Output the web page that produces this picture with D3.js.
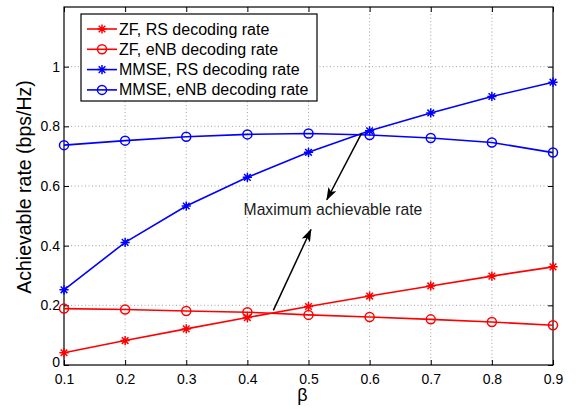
<!DOCTYPE html>
<html>
<head>
<meta charset="utf-8">
<script src="https://cdn.jsdelivr.net/npm/d3@7"></script>
<style>
  body { margin: 0; background: #fff; }
  svg text { font-family: Arial, "Liberation Sans", sans-serif; }
</style>
</head>
<body>
<div id="chart"></div>
<script>
// beta values and the four rate curves
var betas = [0.1, 0.2, 0.3, 0.4, 0.5, 0.6, 0.7, 0.8, 0.9];
var zfRS = [0.041, 0.082, 0.121, 0.159, 0.196, 0.231, 0.265, 0.298, 0.329];
var zfENB = [0.189, 0.186, 0.181, 0.177, 0.168, 0.161, 0.153, 0.144, 0.133];
var mmseRS = [0.252, 0.411, 0.533, 0.629, 0.713, 0.785, 0.845, 0.900, 0.948];
var mmseENB = [0.737, 0.752, 0.765, 0.773, 0.776, 0.771, 0.761, 0.746, 0.712];
var xTicks = [0.1, 0.2, 0.3, 0.4, 0.5, 0.6, 0.7, 0.8, 0.9];
var yTicks = [0, 0.2, 0.4, 0.6, 0.8, 1];
var seriesNames = ["ZF, RS decoding rate", "ZF, eNB decoding rate", "MMSE, RS decoding rate", "MMSE, eNB decoding rate"];
var annotation = "Maximum achievable rate";

var series = [
  {name: seriesNames[0], values: zfRS, color: "#ff0000", marker: "star"},
  {name: seriesNames[1], values: zfENB, color: "#ff0000", marker: "circle"},
  {name: seriesNames[2], values: mmseRS, color: "#0000ff", marker: "star"},
  {name: seriesNames[3], values: mmseENB, color: "#0000ff", marker: "circle"}
];

var margin = {top: 7, right: 24, bottom: 44, left: 64},
  width = 577 - margin.left - margin.right,
  height = 409 - margin.top - margin.bottom;

var svg = d3.select("#chart").append("svg")
  .attr("width", 577)
  .attr("height", 409);
var g = svg.append("g")
  .attr("transform", "translate(" + margin.left + "," + margin.top + ")");

var x = d3.scaleLinear().domain([0.1, 0.9]).range([0, width]);
var y = d3.scaleLinear().domain([0, 1.2]).range([height, 0]);

// dotted grid
g.selectAll(".vgrid").data(xTicks.slice(1, -1)).enter().append("line")
  .attr("x1", function(d) { return x(d); }).attr("x2", function(d) { return x(d); })
  .attr("y1", 0).attr("y2", height)
  .attr("stroke", "#8c8c8c").attr("stroke-width", 0.8).attr("stroke-dasharray", "1,2.5");
g.selectAll(".hgrid").data(yTicks.slice(1)).enter().append("line")
  .attr("y1", function(d) { return y(d); }).attr("y2", function(d) { return y(d); })
  .attr("x1", 0).attr("x2", width)
  .attr("stroke", "#8c8c8c").attr("stroke-width", 0.8).attr("stroke-dasharray", "1,2.5");

// axes with inward ticks on all four sides
function styleAxis(sel) {
  sel.select(".domain").remove();
  sel.selectAll(".tick line").attr("stroke", "#000");
  sel.selectAll("text").attr("fill", "#000").style("font-size", "14px");
}
g.append("g")
  .attr("transform", "translate(0," + height + ")")
  .call(d3.axisBottom(x).tickValues(xTicks).tickSizeInner(-5).tickSizeOuter(0).tickPadding(9).tickFormat(d3.format(".1f")))
  .call(styleAxis);
var yAxis = g.append("g")
  .call(d3.axisLeft(y).tickValues(yTicks).tickSizeInner(-5).tickSizeOuter(0).tickPadding(4).tickFormat(function(d) { return d === 0 || d === 1 ? d : d3.format(".1f")(d); }))
  .call(styleAxis);
// lift the "0" label a little so it clears the x labels
yAxis.selectAll(".tick text").filter(function(d) { return d === 0; }).attr("dy", "0.1em");
g.append("g")
  .call(d3.axisTop(x).tickValues(xTicks).tickSizeInner(-5).tickSizeOuter(0).tickFormat(""))
  .call(styleAxis);
g.append("g")
  .attr("transform", "translate(" + width + ",0)")
  .call(d3.axisRight(y).tickValues(yTicks).tickSizeInner(-5).tickSizeOuter(0).tickFormat(""))
  .call(styleAxis);

g.append("rect")
  .attr("width", width).attr("height", height)
  .attr("fill", "none").attr("stroke", "#000").attr("stroke-width", 1.2);

// marker paths
function starPath(r) {
  var d = r * 0.72;
  return "M" + (-r) + ",0L" + r + ",0M0," + (-r) + "L0," + r +
    "M" + (-d) + "," + (-d) + "L" + d + "," + d + "M" + (-d) + "," + d + "L" + d + "," + (-d);
}
function drawMarker(sel, type, color) {
  if (type === "star") {
    sel.append("path").attr("d", starPath(4.6))
      .attr("fill", "none").attr("stroke", color).attr("stroke-width", 1.5);
  } else {
    sel.append("circle").attr("r", 4.5)
      .attr("fill", "none").attr("stroke", color).attr("stroke-width", 1.5);
  }
}

var line = d3.line()
  .x(function(d, i) { return x(betas[i]); })
  .y(function(d) { return y(d); });

series.forEach(function(s) {
  g.append("path")
    .datum(s.values)
    .attr("fill", "none")
    .attr("stroke", s.color)
    .attr("stroke-width", 1.6)
    .attr("d", line);
  s.values.forEach(function(v, i) {
    var m = g.append("g").attr("transform", "translate(" + x(betas[i]) + "," + y(v) + ")");
    drawMarker(m, s.marker, s.color);
  });
});

// annotation arrows
svg.append("defs").append("marker")
  .attr("id", "head")
  .attr("viewBox", "0 0 13 9")
  .attr("refX", 12).attr("refY", 4.5)
  .attr("markerWidth", 13).attr("markerHeight", 9)
  .attr("markerUnits", "userSpaceOnUse")
  .attr("orient", "auto")
  .append("path")
  .attr("d", "M0,0L13,4.5L0,9L3,4.5Z")
  .attr("fill", "#000");

var arrows = [
  {x1: 0.587, y1: 0.777, x2: 0.530, y2: 0.554},
  {x1: 0.4425, y1: 0.183, x2: 0.504, y2: 0.454}
];
arrows.forEach(function(a) {
  g.append("line")
    .attr("x1", x(a.x1)).attr("y1", y(a.y1))
    .attr("x2", x(a.x2)).attr("y2", y(a.y2))
    .attr("stroke", "#000").attr("stroke-width", 1.5)
    .attr("marker-end", "url(#head)");
});
g.append("text")
  .attr("x", x(0.540)).attr("y", y(0.502))
  .attr("text-anchor", "middle")
  .style("font-size", "15.7px")
  .attr("fill", "#1a1a1a")
  .text(annotation);

// axis labels
svg.append("text")
  .attr("x", margin.left + width / 2 - 6)
  .attr("y", 401)
  .attr("text-anchor", "middle")
  .style("font-size", "18px")
  .text("β");
svg.append("text")
  .attr("transform", "translate(31," + (margin.top + height / 2 + 1) + ") rotate(-90)")
  .attr("text-anchor", "middle")
  .style("font-size", "19.5px")
  .text("Achievable rate (bps/Hz)");

// legend
var legend = svg.append("g").attr("transform", "translate(81,14)");
legend.append("rect")
  .attr("width", 236).attr("height", 87)
  .attr("fill", "#fff").attr("stroke", "#000").attr("stroke-width", 1.2);
series.forEach(function(s, i) {
  var row = legend.append("g").attr("transform", "translate(0," + (15 + i * 20.3) + ")");
  row.append("line").attr("x1", 6).attr("x2", 36).attr("stroke", s.color).attr("stroke-width", 1.6);
  var m = row.append("g").attr("transform", "translate(21,0)");
  drawMarker(m, s.marker, s.color);
  row.append("text")
    .attr("x", 38).attr("y", 5.5)
    .style("font-size", "16px")
    .text(s.name);
});
</script>
</body>
</html>
